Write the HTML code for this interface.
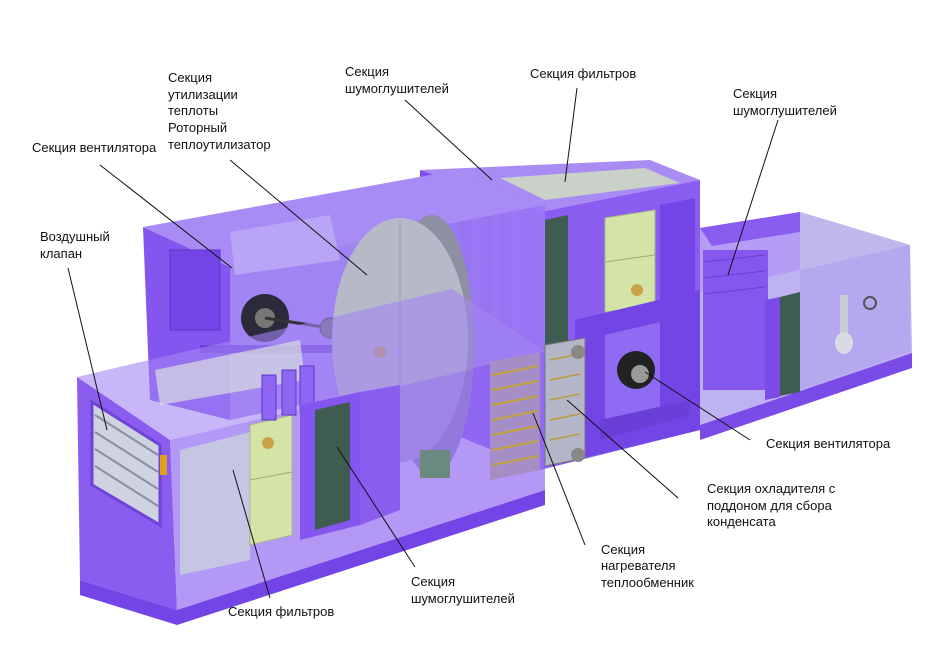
<!DOCTYPE html>
<html><head><meta charset="utf-8"><style>
html,body{margin:0;padding:0;background:#fff;}
svg{display:block;}
text{font-family:"Liberation Sans",sans-serif;font-size:13px;fill:#111;}
</style></head><body>
<svg width="950" height="650" viewBox="0 0 950 650" xmlns="http://www.w3.org/2000/svg">
<rect width="950" height="650" fill="#fff"/>
<!-- right long box -->
<polygon points="700,228 800,212 910,245 700,293" fill="#b59cf5"/>
<polygon points="700,228 800,212 800,232 712,246" fill="#8a5cf0"/>
<polygon points="800,212 910,245 910,352 800,390" fill="#c0b8ec"/>
<polygon points="700,293 910,245 912,353 700,425" fill="#b3a4f0" opacity="0.85"/>
<polygon points="700,425 912,353 912,368 700,440" fill="#7a4be6"/>
<rect x="703" y="250" width="65" height="140" fill="#8557ee"/>
<g stroke="#6a3fd8"><line x1="705" y1="262" x2="765" y2="255"/><line x1="705" y1="278" x2="765" y2="271"/><line x1="705" y1="294" x2="765" y2="287"/></g>
<polygon points="765,300 780,297 780,397 765,400" fill="#7a4be6"/>
<polygon points="780,297 800,292 800,392 780,396" fill="#3f5c52"/>
<rect x="840" y="295" width="8" height="45" fill="#c9ccd6"/>
<ellipse cx="844" cy="343" rx="9" ry="11" fill="#d8dbe3"/>
<circle cx="870" cy="303" r="6" fill="none" stroke="#555" stroke-width="2"/>
<!-- right tower -->
<polygon points="420,170 650,160 700,180 540,212" fill="#a98bf4"/>
<polygon points="420,170 540,212 540,470 420,420" fill="#7e4dec"/>
<polygon points="540,212 700,180 700,430 540,470" fill="#8a5cf0"/>
<g fill="#9470f3" stroke="#5e35c9" stroke-width="1">
<rect x="430" y="185" width="12" height="150"/><rect x="450" y="188" width="12" height="150"/>
<rect x="470" y="191" width="12" height="150"/><rect x="490" y="194" width="12" height="150"/>
<rect x="510" y="197" width="12" height="150"/>
</g>
<polygon points="500,178 645,168 680,183 545,200" fill="#c9d1c9"/>
<polygon points="545,220 568,215 568,345 545,350" fill="#3f5c52"/>
<polygon points="605,218 655,210 655,305 605,312" fill="#d4e4a6" stroke="#a9b98a"/>
<line x1="605" y1="262" x2="655" y2="255" stroke="#9aa97d"/>
<circle cx="637" cy="290" r="6" fill="#c9a24a"/>
<polygon points="660,205 695,198 695,300 660,308" fill="#7445e6"/>
<polygon points="575,320 700,290 700,430 575,460" fill="#7445e6"/>
<!-- upper block -->
<polygon points="143,227 458,170 545,205 230,267" fill="#a88bf4"/>
<polygon points="143,227 230,267 230,420 150,400" fill="#8455ef"/>
<polygon points="230,267 545,205 545,352 230,420" fill="#9a78f3" opacity="0.92"/>
<polygon points="230,232 330,215 340,260 235,275" fill="#b9a5f6"/>
<rect x="170" y="250" width="50" height="80" fill="#7445e6" stroke="#5e35c9"/>
<circle cx="265" cy="318" r="24" fill="#2a2a3a"/>
<circle cx="265" cy="318" r="10" fill="#777"/>
<line x1="265" y1="318" x2="330" y2="328" stroke="#333" stroke-width="3"/>
<circle cx="330" cy="328" r="10" fill="#666" stroke="#333"/>
<circle cx="352" cy="326" r="7" fill="none" stroke="#333" stroke-width="2"/>
<rect x="200" y="345" width="150" height="8" fill="#6a3fd8"/>
<ellipse cx="432" cy="345" rx="42" ry="130" fill="#8f8fa3"/>
<ellipse cx="400" cy="340" rx="68" ry="122" fill="#b6b9c8"/>
<line x1="400" y1="220" x2="400" y2="460" stroke="#9a9dad"/>
<circle cx="380" cy="352" r="6" fill="#c9a24a"/>
<!-- lower left module -->
<polygon points="77,377 452,289 545,352 170,440" fill="#a286f4" opacity="0.6"/>
<polygon points="77,377 170,440 177,610 80,580" fill="#8a5cf0"/>
<polygon points="92,402 160,445 160,525 92,485" fill="#cfd2e0" stroke="#6d43d8" stroke-width="3"/>
<g stroke="#8c8da0" stroke-width="2">
<line x1="95" y1="415" x2="158" y2="455"/><line x1="95" y1="432" x2="158" y2="472"/>
<line x1="95" y1="449" x2="158" y2="489"/><line x1="95" y1="466" x2="158" y2="506"/>
</g>
<rect x="160" y="455" width="7" height="20" fill="#e0a020"/>
<polygon points="170,440 545,352 545,490 177,610" fill="#9670f2" opacity="0.72"/>
<polygon points="80,580 177,610 545,490 545,505 177,625 80,595" fill="#7445e6"/>
<polygon points="155,370 300,340 305,380 160,405" fill="#d9dde0" opacity="0.7"/>
<polygon points="180,450 250,432 250,560 180,575" fill="#c8cce0" opacity="0.85"/>
<polygon points="250,425 292,415 292,535 250,545" fill="#d4e4a6" stroke="#a9b98a"/>
<line x1="250" y1="480" x2="292" y2="472" stroke="#9aa97d"/>
<circle cx="268" cy="443" r="6" fill="#c9a24a"/>
<g fill="#8f66f2" stroke="#5e35c9">
<rect x="262" y="375" width="14" height="45"/><rect x="282" y="370" width="14" height="45"/>
<rect x="300" y="366" width="14" height="45"/>
</g>
<polygon points="300,405 360,392 360,525 300,540" fill="#8455ef"/>
<polygon points="315,410 350,402 350,520 315,530" fill="#3f5c52"/>
<polygon points="360,392 400,385 400,510 360,525" fill="#8a5cf0"/>
<rect x="420" y="450" width="30" height="28" fill="#6a8a80"/>
<!-- middle coil / fan -->
<polygon points="490,362 540,352 540,470 490,480" fill="#a58dc5"/>
<g stroke="#c2a33a" stroke-width="2">
<line x1="492" y1="375" x2="538" y2="366"/><line x1="492" y1="390" x2="538" y2="381"/>
<line x1="492" y1="405" x2="538" y2="396"/><line x1="492" y1="420" x2="538" y2="411"/>
<line x1="492" y1="435" x2="538" y2="426"/><line x1="492" y1="450" x2="538" y2="441"/>
<line x1="492" y1="465" x2="538" y2="456"/>
</g>
<polygon points="545,345 585,338 585,458 545,466" fill="#b4b6c8" stroke="#777"/>
<g stroke="#b99b3a" stroke-width="1.5">
<line x1="550" y1="360" x2="580" y2="354"/><line x1="550" y1="380" x2="580" y2="374"/>
<line x1="550" y1="400" x2="580" y2="394"/><line x1="550" y1="420" x2="580" y2="414"/>
<line x1="550" y1="440" x2="580" y2="434"/>
</g>
<circle cx="578" cy="352" r="7" fill="#888"/><circle cx="578" cy="455" r="7" fill="#888"/>
<polygon points="605,335 660,322 660,420 605,435" fill="#8f6af2"/>
<circle cx="636" cy="370" r="19" fill="#222"/>
<circle cx="640" cy="374" r="9" fill="#999"/>
<polygon points="600,420 690,400 690,415 600,440" fill="#6a3fd8"/>
<!-- leader lines -->
<g stroke="#111" stroke-width="1" fill="none">
<line x1="100" y1="165" x2="232" y2="268"/>
<line x1="230" y1="160" x2="367" y2="275"/>
<line x1="405" y1="100" x2="492" y2="180"/>
<line x1="577" y1="88" x2="565" y2="182"/>
<line x1="778" y1="120" x2="728" y2="275"/>
<line x1="68" y1="268" x2="107" y2="430"/>
<line x1="750" y1="440" x2="645" y2="372"/>
<line x1="678" y1="498" x2="567" y2="400"/>
<line x1="585" y1="545" x2="533" y2="413"/>
<line x1="415" y1="567" x2="337" y2="447"/>
<line x1="270" y1="598" x2="233" y2="470"/>
</g>
<!-- labels -->
<text x="32" y="152">Секция вентилятора</text>
<text x="168" y="82">Секция</text>
<text x="168" y="99">утилизации</text>
<text x="168" y="115">теплоты</text>
<text x="168" y="132">Роторный</text>
<text x="168" y="149">теплоутилизатор</text>
<text x="345" y="76">Секция</text>
<text x="345" y="93">шумоглушителей</text>
<text x="530" y="78">Секция фильтров</text>
<text x="733" y="98">Секция</text>
<text x="733" y="115">шумоглушителей</text>
<text x="40" y="241">Воздушный</text>
<text x="40" y="258">клапан</text>
<text x="766" y="448">Секция вентилятора</text>
<text x="707" y="493">Секция охладителя с</text>
<text x="707" y="510">поддоном для сбора</text>
<text x="707" y="526">конденсата</text>
<text x="601" y="554">Секция</text>
<text x="601" y="570">нагревателя</text>
<text x="601" y="587">теплообменник</text>
<text x="411" y="586">Секция</text>
<text x="411" y="603">шумоглушителей</text>
<text x="228" y="616">Секция фильтров</text>
</svg>
</body></html>
